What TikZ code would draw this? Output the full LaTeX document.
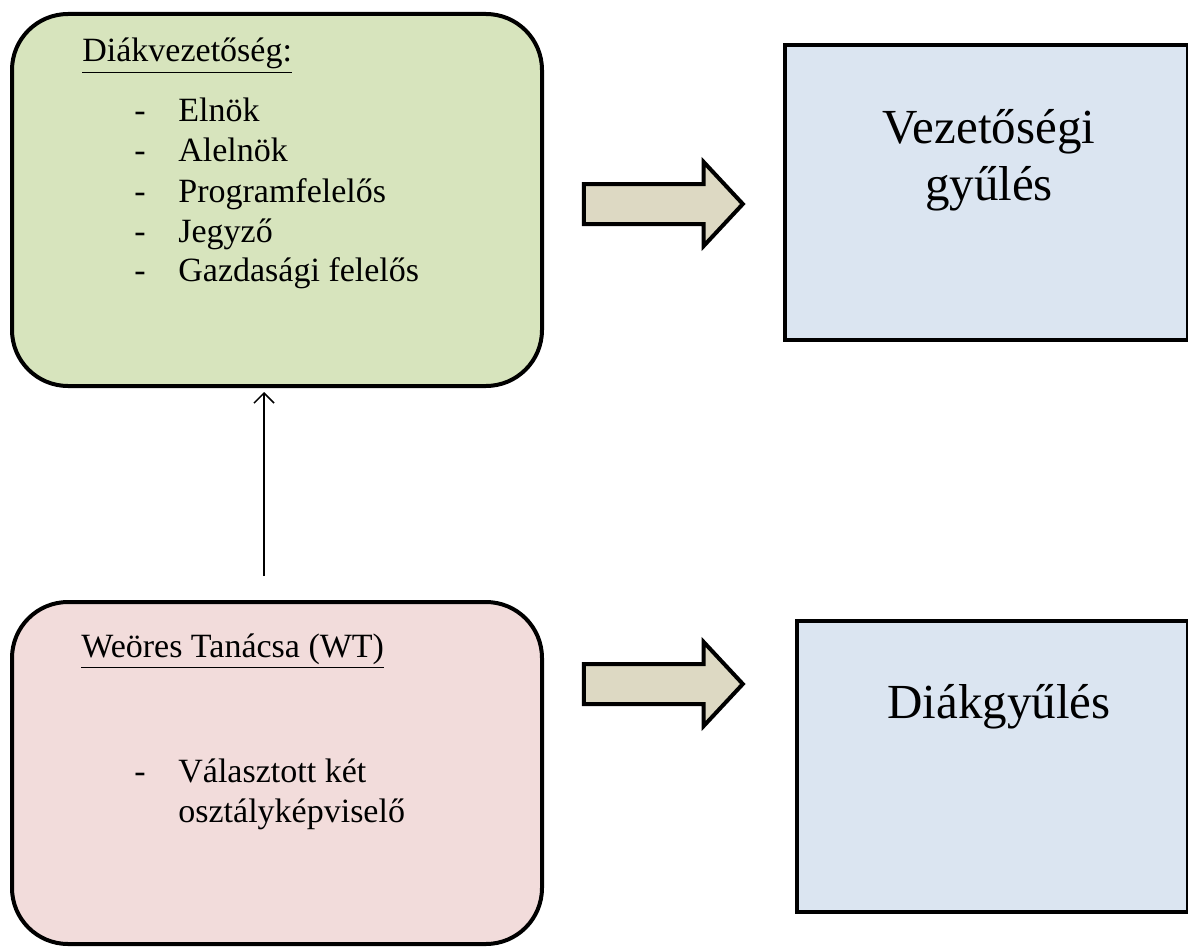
\documentclass[tikz,border=0pt]{standalone}
\usepackage{fontspec}
\setmainfont{Liberation Serif}
\usetikzlibrary{shapes.arrows,arrows.meta}

\definecolor{boardgreen}{RGB}{215,228,189}
\definecolor{councilpink}{RGB}{242,220,219}
\definecolor{meetblue}{RGB}{219,229,241}
\definecolor{arrowtan}{RGB}{221,217,195}

\tikzset{
  roundbox/.style={draw, line width=2pt, rounded corners=28pt, minimum width=265pt},
  meetbox/.style={draw, line width=2pt, fill=meetblue},
  bigarrow/.style={single arrow, draw, line width=2pt, fill=arrowtan,
    inner xsep=0pt, inner ysep=9pt,
    minimum height=79.5pt, minimum width=40.5pt,
    single arrow head extend=11pt, single arrow tip angle=94},
  listtext/.style={font=\fontsize{17}{20}\selectfont, anchor=base west, inner sep=0pt},
  bigtext/.style={font=\fontsize{24.5}{28.5}\selectfont, anchor=base, inner sep=0pt}
}

\begin{document}
\begin{tikzpicture}[x=0.5pt, y=-0.5pt]
  \useasboundingbox (0,0) rectangle (1188,947);

  % left column
  \node[roundbox, fill=boardgreen, minimum height=186pt] (dv) at (277,200) {};
  \node[roundbox, fill=councilpink, minimum height=171pt] (wt) at (277,773) {};

  \node[listtext] (dvtitle) at (82,62) {\underline{Diákvezetőség:}};
  \node[listtext] (dvlist) at (134,122) {\begin{tabular}[t]{@{}p{22pt}@{}l@{}}
    - & Elnök\\
    - & Alelnök\\
    - & Programfelelős\\
    - & Jegyző\\
    - & Gazdasági felelős
  \end{tabular}};

  \node[listtext] (wttitle) at (81,657) {\underline{Weöres Tanácsa (WT)}};
  \node[listtext] (wtlist) at (134,782) {\begin{tabular}[t]{@{}p{22pt}@{}l@{}}
    - & Választott két\\
      & osztályképviselő
  \end{tabular}};

  % right column
  \node[meetbox, minimum width=201.5pt, minimum height=147.5pt] (vg) at (986.5,192.5) {};
  \node[meetbox, minimum width=195.5pt, minimum height=145.5pt] (dg) at (992.5,766.5) {};

  \node[bigtext] (vgtext) at (989,143) {\begin{tabular}[t]{@{}c@{}}Vezetőségi\\ gyűlés\end{tabular}};
  \node[bigtext] (dgtext) at (999,718) {Diákgyűlés};

  % arrows
  \node[bigarrow] (arrtop) at (654,204) {};
  \node[bigarrow] (arrbot) at (654,684) {};
  \draw[line width=0.75pt, -{Straight Barb[length=5pt,width=10pt]}]
    ([xshift=-6.5pt,yshift=12pt]wt.north) -- ([xshift=-6.5pt,yshift=-2pt]dv.south);
\end{tikzpicture}
\end{document}
